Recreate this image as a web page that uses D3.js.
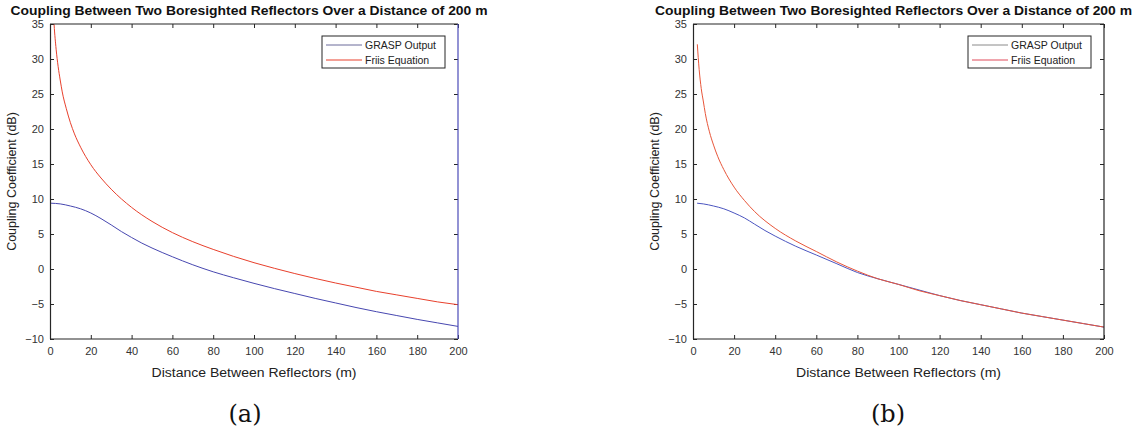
<!DOCTYPE html>
<html>
<head>
<meta charset="utf-8">
<script src="https://cdn.jsdelivr.net/npm/d3@7"></script>
<style>
  html, body { margin: 0; padding: 0; background: #fff; }
  svg { display: block; }
  text { font-family: "Liberation Sans", Arial, Helvetica, sans-serif; }
</style>
</head>
<body>
<svg id="fig" width="1148" height="434"></svg>
<script>
// ---------- data ----------
const titleText = "Coupling Between Two Boresighted Reflectors Over a Distance of 200 m";
const xLabelText = "Distance Between Reflectors (m)";
const yLabelText = "Coupling Coefficient (dB)";
const seriesNames = ["GRASP Output", "Friis Equation"];
const captions = ["(a)", "(b)"];
const xTicks = [0, 20, 40, 60, 80, 100, 120, 140, 160, 180, 200];
const yTicks = [-10, -5, 0, 5, 10, 15, 20, 25, 30, 35];

// (a)
const graspA_d = [0.5, 5, 10, 15, 20, 25, 30, 35, 40, 45, 50, 60, 70, 80, 90, 100, 110, 120, 130, 140, 150, 160, 170, 180, 190, 200];
const graspA_v = [9.4, 9.3, 9.0, 8.6, 8.0, 7.2, 6.3, 5.35, 4.5, 3.7, 3.0, 1.75, 0.6, -0.4, -1.25, -2.05, -2.8, -3.5, -4.2, -4.85, -5.5, -6.1, -6.65, -7.2, -7.7, -8.2];
const friisA_d = [1, 1.5, 2, 3, 4, 5, 6, 8, 10, 12, 15, 20, 25, 30, 40, 50, 60, 70, 80, 90, 100, 110, 120, 130, 140, 150, 160, 170, 180, 190, 200];
const friisA_v = [40.9, 37.4, 34.9, 31.4, 28.9, 27.0, 25.3, 22.9, 20.9, 19.3, 17.4, 14.9, 13.0, 11.4, 8.8, 6.8, 5.2, 3.9, 2.8, 1.8, 0.9, 0.1, -0.65, -1.35, -2.0, -2.6, -3.2, -3.7, -4.2, -4.7, -5.1];

// (b)
const graspB_d = [2, 5, 10, 15, 20, 25, 30, 35, 40, 50, 60, 70, 80, 90, 100, 110, 120, 130, 140, 150, 160, 170, 180, 190, 200];
const graspB_v = [9.4, 9.3, 9.0, 8.6, 8.0, 7.3, 6.4, 5.5, 4.7, 3.25, 2.0, 0.75, -0.5, -1.4, -2.2, -3.0, -3.8, -4.5, -5.1, -5.7, -6.3, -6.8, -7.3, -7.8, -8.3];
const friisB_d = [2.1, 3, 4, 5, 6, 8, 10, 12, 15, 20, 25, 30, 40, 50, 60, 70, 80, 90, 100, 110, 120, 130, 140, 150, 160, 170, 180, 190, 200];
const friisB_v = [32.1, 28.5, 25.8, 24.0, 22.2, 19.6, 17.7, 16.1, 14.2, 11.7, 9.8, 8.2, 5.8, 4.0, 2.5, 1.0, -0.3, -1.4, -2.2, -3.1, -3.8, -4.5, -5.1, -5.7, -6.3, -6.8, -7.3, -7.8, -8.3];

// ---------- drawing ----------
const svg = d3.select("#fig");
const axisColor = "#262626";

function drawPanel(cfg) {
  const { left, right, top, bottom } = cfg;
  const x = d3.scaleLinear().domain([0, 200]).range([left, right]);
  const y = d3.scaleLinear().domain([-10, 35]).range([bottom, top]);
  const g = svg.append("g");

  const clipId = "clip" + cfg.id;
  svg.append("clipPath").attr("id", clipId)
    .append("rect").attr("x", left).attr("y", top)
    .attr("width", right - left).attr("height", bottom - top);

  // axes (ticks inward on all four sides)
  const tl = 4;
  g.append("g").attr("transform", `translate(0,${bottom})`)
    .call(d3.axisBottom(x).tickValues(xTicks).tickSize(-tl).tickPadding(8).tickFormat(d3.format("d")))
    .call(a => a.select(".domain").remove());
  g.append("g").attr("transform", `translate(0,${top})`)
    .call(d3.axisTop(x).tickValues(xTicks).tickSize(-tl).tickFormat(""))
    .call(a => a.select(".domain").remove());
  g.append("g").attr("transform", `translate(${left},0)`)
    .call(d3.axisLeft(y).tickValues(yTicks).tickSize(-tl).tickPadding(6).tickFormat(d3.format("d")))
    .call(a => a.select(".domain").remove());
  g.append("g").attr("transform", `translate(${right},0)`)
    .call(d3.axisRight(y).tickValues(yTicks).tickSize(-tl).tickFormat(""))
    .call(a => a.select(".domain").remove());
  g.selectAll(".tick line").attr("stroke", axisColor).attr("stroke-width", 1);
  g.selectAll(".tick text").attr("fill", "#333").style("font-size", "11px")
    .style("font-family", "'Liberation Sans', Arial, sans-serif");

  // lines
  const line = (ds, vs) => d3.line().curve(d3.curveMonotoneX)
    .x((d, i) => x(ds[i])).y((d, i) => y(vs[i]))(ds);
  g.append("path").attr("d", line(cfg.graspD, cfg.graspV))
    .attr("fill", "none").attr("stroke", cfg.graspColor).attr("stroke-width", 1)
    .attr("clip-path", `url(#${clipId})`);
  g.append("path").attr("d", line(cfg.friisD, cfg.friisV))
    .attr("fill", "none").attr("stroke", cfg.friisColor).attr("stroke-width", 1)
    .attr("clip-path", `url(#${clipId})`);

  // box
  g.append("path")
    .attr("d", `M${left},${top}H${right}M${left},${bottom}H${right}M${left + 0.5},${top}V${bottom}`)
    .attr("stroke", axisColor).attr("stroke-width", 1.2).attr("fill", "none");
  g.append("path")
    .attr("d", `M${right},${top}V${bottom}`)
    .attr("stroke", cfg.rightEdgeColor).attr("stroke-width", 1.2).attr("fill", "none");

  // title
  const cx = (left + right) / 2;
  g.append("text").attr("x", cx - 5).attr("y", 15)
    .attr("text-anchor", "middle").style("font-size", "12px").style("font-weight", "bold")
    .attr("fill", "#111").attr("textLength", 477).attr("lengthAdjust", "spacingAndGlyphs")
    .text(titleText);

  // x label
  g.append("text").attr("x", cx).attr("y", 377)
    .attr("text-anchor", "middle").style("font-size", "12.5px").attr("fill", "#222")
    .attr("textLength", 205).attr("lengthAdjust", "spacingAndGlyphs")
    .text(xLabelText);

  // y label
  g.append("text")
    .attr("transform", `translate(${left - 34},${(top + bottom) / 2}) rotate(-90)`)
    .attr("text-anchor", "middle").style("font-size", "12.5px").attr("fill", "#222")
    .text(yLabelText);

  // legend
  const lx = cfg.legendX, ly = 36, lw = 123, lh = 32;
  g.append("rect").attr("x", lx).attr("y", ly).attr("width", lw).attr("height", lh)
    .attr("fill", "#fff").attr("stroke", axisColor).attr("stroke-width", 1);
  const items = [
    { name: seriesNames[0], color: cfg.legendColors[0] },
    { name: seriesNames[1], color: cfg.legendColors[1] }
  ];
  items.forEach((it, i) => {
    const yy = ly + 9 + i * 15;
    g.append("line").attr("x1", lx + 4).attr("x2", lx + 40).attr("y1", yy).attr("y2", yy)
      .attr("stroke", it.color).attr("stroke-width", 1);
    g.append("text").attr("x", lx + 43).attr("y", yy + 4)
      .style("font-size", "10.5px").attr("fill", "#222").text(it.name);
  });

  // caption
  g.append("text").attr("x", cfg.captionX).attr("y", 422)
    .attr("text-anchor", "middle")
    .style("font-family", "'DejaVu Serif', 'Liberation Serif', serif")
    .style("font-size", "24px").attr("fill", "#111")
    .text(cfg.caption);
}

drawPanel({
  id: "a", left: 50, right: 458, top: 24, bottom: 339,
  graspD: graspA_d, graspV: graspA_v, friisD: friisA_d, friisV: friisA_v,
  graspColor: "#4747b0", friisColor: "#e8402c", rightEdgeColor: "#4a4ab8",
  legendColors: ["#6a6a9a", "#e8402c"], legendX: 322, captionX: 245, caption: captions[0]
});
drawPanel({
  id: "b", left: 693, right: 1104, top: 24, bottom: 339,
  graspD: graspB_d, graspV: graspB_v, friisD: friisB_d, friisV: friisB_v,
  graspColor: "#4b55c0", friisColor: "#e8563a", rightEdgeColor: axisColor,
  legendColors: ["#8a8a8a", "#e04a5a"], legendX: 968, captionX: 888, caption: captions[1]
});
</script>
</body>
</html>
